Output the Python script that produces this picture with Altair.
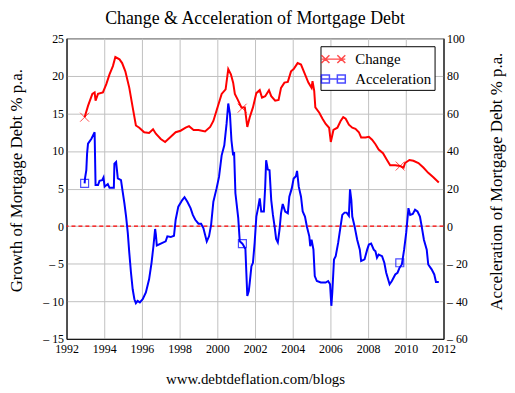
import altair as alt
import pandas as pd

FONT = "Liberation Serif"

# ---- data ----
change_years = [1992.96, 1993.14, 1993.37, 1993.49, 1993.54, 1993.67, 1993.93, 1994.11, 1994.28, 1994.46,
                1994.59, 1994.81, 1994.95, 1995.12, 1995.33, 1995.51, 1995.68, 1995.86, 1996.12, 1996.38,
                1996.59, 1996.74, 1997.00, 1997.23, 1997.53, 1997.79, 1998.05, 1998.32, 1998.50, 1998.74,
                1999.00, 1999.35, 1999.62, 1999.79, 1999.96, 2000.23, 2000.44, 2000.58, 2000.72, 2000.84,
                2000.93, 2001.07, 2001.28, 2001.46, 2001.59, 2001.72, 2001.89, 2002.07, 2002.25, 2002.37,
                2002.54, 2002.74, 2002.86, 2003.07, 2003.25, 2003.38, 2003.56, 2003.74, 2003.91, 2004.05,
                2004.26, 2004.44, 2004.62, 2004.83, 2005.00, 2005.05, 2005.14, 2005.20, 2005.41, 2005.58,
                2005.75, 2005.93, 2006.02, 2006.10, 2006.16, 2006.37, 2006.54, 2006.68, 2006.81, 2006.98,
                2007.16, 2007.33, 2007.51, 2007.63, 2007.86, 2008.04, 2008.21, 2008.39, 2008.56, 2008.79,
                2009.00, 2009.17, 2009.44, 2009.70, 2009.88, 2009.96, 2010.19, 2010.40, 2010.67, 2010.93,
                2011.19, 2011.46, 2011.75]
change_vals = [14.5, 16.0, 17.6, 17.8, 16.7, 17.6, 17.8, 18.9, 20.2, 21.3,
               22.5, 22.2, 21.7, 20.6, 18.4, 15.8, 13.4, 13.1, 12.5, 12.4,
               12.9, 12.3, 11.6, 11.2, 11.9, 12.5, 12.7, 13.1, 13.3, 12.8,
               12.8, 12.6, 13.2, 14.0, 15.4, 17.6, 18.2, 20.9, 20.2, 19.1,
               17.6, 16.9, 15.8, 15.8, 13.2, 14.5, 15.8, 17.7, 18.1, 17.1,
               17.3, 18.1, 17.3, 16.7, 16.8, 18.4, 19.1, 19.2, 20.6, 20.9,
               21.7, 21.5, 20.4, 19.1, 18.4, 19.3, 18.0, 15.8, 15.1, 14.3,
               13.6, 13.1, 11.2, 12.1, 12.8, 13.1, 14.0, 14.5, 14.3, 13.5,
               13.1, 12.95, 12.5, 11.8, 11.8, 11.9, 11.5, 10.9, 10.2, 9.7,
               8.8, 8.1, 8.1, 8.0, 7.8, 8.4, 8.8, 8.7, 8.4, 7.8,
               7.1, 6.5, 5.8]

accel_years = [1992.96, 1992.98, 1993.05, 1993.09, 1993.14, 1993.32, 1993.49, 1993.54, 1993.67, 1993.75,
               1993.89, 1993.96, 1994.02, 1994.19, 1994.28, 1994.51, 1994.54, 1994.63, 1994.72, 1994.89,
               1994.98, 1995.07, 1995.16, 1995.25, 1995.33, 1995.42, 1995.51, 1995.60, 1995.68, 1995.77,
               1995.89, 1996.04, 1996.21, 1996.38, 1996.51, 1996.61, 1996.70, 1996.74, 1996.79, 1997.00,
               1997.26, 1997.35, 1997.53, 1997.70, 1997.79, 1997.93, 1998.14, 1998.26, 1998.41, 1998.58,
               1998.70, 1998.83, 1999.00, 1999.14, 1999.26, 1999.44, 1999.56, 1999.67, 1999.79, 1999.96,
               2000.09, 2000.23, 2000.37, 2000.49, 2000.58, 2000.67, 2000.75, 2000.84, 2000.89, 2000.96,
               2001.11, 2001.19, 2001.33, 2001.49, 2001.54, 2001.59, 2001.67, 2001.72, 2001.81, 2001.89,
               2001.98, 2002.07, 2002.16, 2002.25, 2002.33, 2002.47, 2002.54, 2002.59, 2002.68, 2002.77,
               2002.86, 2002.95, 2003.04, 2003.12, 2003.21, 2003.30, 2003.38, 2003.47, 2003.60, 2003.74,
               2003.82, 2003.95, 2004.05, 2004.17, 2004.23, 2004.32, 2004.44, 2004.53, 2004.65, 2004.75,
               2004.88, 2004.93, 2005.00, 2005.10, 2005.17, 2005.28, 2005.49, 2005.75, 2005.88, 2005.98,
               2006.05, 2006.10, 2006.19, 2006.28, 2006.41, 2006.54, 2006.63, 2006.75, 2006.86, 2006.98,
               2007.04, 2007.11, 2007.16, 2007.28, 2007.42, 2007.56, 2007.63, 2007.81, 2007.95, 2008.04,
               2008.16, 2008.30, 2008.39, 2008.47, 2008.56, 2008.74, 2008.86, 2008.96, 2009.14, 2009.26,
               2009.44, 2009.56, 2009.67, 2009.79, 2009.91, 2010.02, 2010.14, 2010.23, 2010.37, 2010.49,
               2010.62, 2010.75, 2010.84, 2010.96, 2011.11, 2011.19, 2011.37, 2011.51, 2011.60, 2011.75]
accel_vals = [22.8, 25.4, 29.8, 38.6, 43.9, 46.5, 50.0, 21.9, 21.9, 24.1,
              24.5, 25.9, 21.0, 22.4, 20.4, 20.4, 33.3, 34.2, 25.4, 24.5,
              18.3, 12.2, 5.1, -3.6, -14.2, -24.8, -33.6, -38.9, -41.0, -39.8,
              -40.6, -38.9, -35.3, -28.3, -19.5, -10.7, -1.5, -4.5, -10.3, -9.3,
              -8.1, -5.4, -5.8, -5.1, 3.4, 10.4, 13.9, 15.4, 13.0, 9.6,
              6.0, 3.4, 1.3, 1.3, -1.0, -8.1, -5.4, 0.7, 13.0, 20.1,
              26.2, 37.7, 43.0, 54.4, 65.3, 59.7, 45.6, 37.7, 39.4, 17.5,
              4.3, -8.1, -9.3, -12.1, -24.8, -37.1, -34.5, -30.0, -21.3, -19.5,
              -8.9, 5.1, 9.6, 14.8, 7.8, 7.8, 21.0, 35.1, 30.1, 29.8,
              13.9, 6.0, -0.2, -6.8, -8.6, -1.9, 6.9, 11.8, 7.8, 6.9,
              15.7, 20.1, 25.4, 26.6, 29.4, 21.0, 15.7, 7.8, 5.1, -0.2,
              -5.4, -10.7, -7.2, -12.5, -26.6, -29.2, -30.0, -30.0, -29.2, -30.9,
              -42.4, -35.3, -17.7, -16.0, -8.9, 0.0, 6.0, 7.2, 7.2, 5.5,
              19.6, 13.9, 5.1, 0.0, -7.2, -12.5, -18.6, -17.7, -12.5, -9.8,
              -9.3, -12.5, -13.4, -16.8, -15.1, -16.0, -19.5, -24.8, -30.9, -29.2,
              -25.7, -24.8, -22.1, -20.4, -12.5, -3.6, 9.6, 6.0, 6.5, 8.7,
              7.8, 5.1, 0.0, -7.2, -12.5, -20.4, -23.0, -25.7, -29.7, -29.7]

change_marker_years = [1992.96, 2001.32, 2009.70]
change_marker_vals = [14.5, 15.7, 8.0]
accel_marker_years = [1992.96, 2001.33, 2009.68]
accel_marker_vals = [22.8, -9.3, -19.5]

series_names = ["Change", "Acceleration"]
series_colors = ["#ff0000", "#0000ff"]
left_ticks = [-15, -10, -5, 0, 5, 10, 15, 20, 25]
right_ticks = [-60, -40, -20, 0, 20, 40, 60, 80, 100]
year_ticks = [1992, 1994, 1996, 1998, 2000, 2002, 2004, 2006, 2008, 2010, 2012]
zero_line = [0]

# ---- tables ----
change_df = pd.DataFrame({"year": change_years, "value": change_vals})
accel_df = pd.DataFrame({"year": accel_years, "accel": accel_vals})
change_mk = pd.DataFrame({"year": change_marker_years, "value": change_marker_vals})
accel_mk = pd.DataFrame({"year": accel_marker_years, "accel": accel_marker_vals})
zero_df = pd.DataFrame({"value": zero_line})
legend_df = pd.DataFrame({"series": series_names})

neg_expr = "datum.value < 0 ? '\u2013 ' + abs(datum.value) : datum.label"

x_scale = alt.Scale(domain=[1992, 2012], nice=False, zero=False)
x_axis = alt.Axis(values=year_ticks, format="d", title="www.debtdeflation.com/blogs",
                  grid=True, ticks=False, labelPadding=5, labelFlush=False, labelOverlap=False,
                  titleX=190, titleY=45, titleAlign="center", titleBaseline="alphabetic",
                  titleFontSize=15)
x_enc = alt.X("year:Q", scale=x_scale, axis=x_axis)

left_scale = alt.Scale(domain=[-15, 25], nice=False, zero=False)
left_axis = alt.Axis(values=left_ticks, title="Growth of Mortgage Debt % p.a.", grid=True,
                     ticks=False, labelPadding=3, labelOverlap=False, labelExpr=neg_expr,
                     titleAngle=270, titleX=-45, titleY=143, titleAlign="center",
                     titleBaseline="alphabetic")
right_scale = alt.Scale(domain=[-60, 100], nice=False, zero=False)
right_axis = alt.Axis(orient="right", values=right_ticks, title="Acceleration of Mortgage Debt % p.a.",
                      grid=False, ticks=False, labelPadding=3, labelOverlap=False, labelExpr=neg_expr,
                      titleAngle=270, titleX=58, titleY=144, titleAlign="center",
                      titleBaseline="alphabetic")
y_left = alt.Y("value:Q", scale=left_scale, axis=left_axis)
y_right = alt.Y("accel:Q", scale=right_scale, axis=right_axis)

change_path = ("M-1.333,0L1.333,0"
               "M-1.333,-0.444L-0.444,0.444M-1.333,0.444L-0.444,-0.444"
               "M0.444,-0.444L1.333,0.444M0.444,0.444L1.333,-0.444")
accel_path = ("M-1.333,0L1.333,0"
              "M-1.333,-0.444L-0.444,-0.444L-0.444,0.444L-1.333,0.444Z"
              "M0.444,-0.444L1.333,-0.444L1.333,0.444L0.444,0.444Z")

change_line = alt.Chart(change_df).mark_line(color="#ff0000", strokeWidth=2).encode(x=x_enc, y=y_left)
zero_rule = alt.Chart(zero_df).mark_rule(color="#ff0000", strokeDash=[4, 3], strokeWidth=1.2).encode(y=y_left)
change_pts = alt.Chart(change_mk).mark_point(
    shape="M-1,-1L1,1M-1,1L1,-1", size=81, filled=False, color="#ff0000", strokeWidth=1
).encode(x=x_enc, y=y_left)

legend_props = dict(orient="none", legendX=256, legendY=8, title=None, padding=3,
                    strokeColor="black", fillColor="white", symbolSize=324,
                    symbolStrokeWidth=1.5, labelFont=FONT, labelFontSize=15,
                    labelOffset=12, rowPadding=2, labelColor="black")
legend_layer = alt.Chart(legend_df).transform_filter("false").mark_point(filled=False).encode(
    color=alt.Color("series:N", scale=alt.Scale(domain=series_names, range=series_colors),
                    legend=alt.Legend(**legend_props)),
    shape=alt.Shape("series:N", scale=alt.Scale(domain=series_names, range=[change_path, accel_path]),
                    legend=alt.Legend(**legend_props)),
)

left_group = alt.layer(change_line, zero_rule, change_pts, legend_layer)

accel_line = alt.Chart(accel_df).mark_line(color="#0000ff", strokeWidth=2).encode(x=x_enc, y=y_right)
accel_pts = alt.Chart(accel_mk).mark_point(
    shape="square", size=64, filled=False, color="#0000ff", strokeWidth=1.2
).encode(x=x_enc, y=y_right)

right_group = alt.layer(accel_line, accel_pts)

chart = alt.layer(left_group, right_group).resolve_scale(y="independent").properties(
    width=380, height=303,
    autosize=alt.AutoSizeParams(type="none"),
    padding={"left": 59, "top": 29, "right": 64, "bottom": 50},
    title=alt.TitleParams("Change & Acceleration of Mortgage Debt", font=FONT, fontSize=18,
                          fontWeight="normal", anchor="middle", offset=14, dy=24,
                          baseline="alphabetic", color="black"),
).configure_axis(
    labelFont=FONT, titleFont=FONT, labelFontSize=12, titleFontSize=17, titleFontWeight="normal",
    labelColor="black", titleColor="black", domainColor="black", gridColor="#c0c0c0",
    gridWidth=1, domainWidth=1
).configure_view(stroke="black", strokeWidth=1)

chart.save("out.html", embed_options={"renderer": "svg", "actions": False})
